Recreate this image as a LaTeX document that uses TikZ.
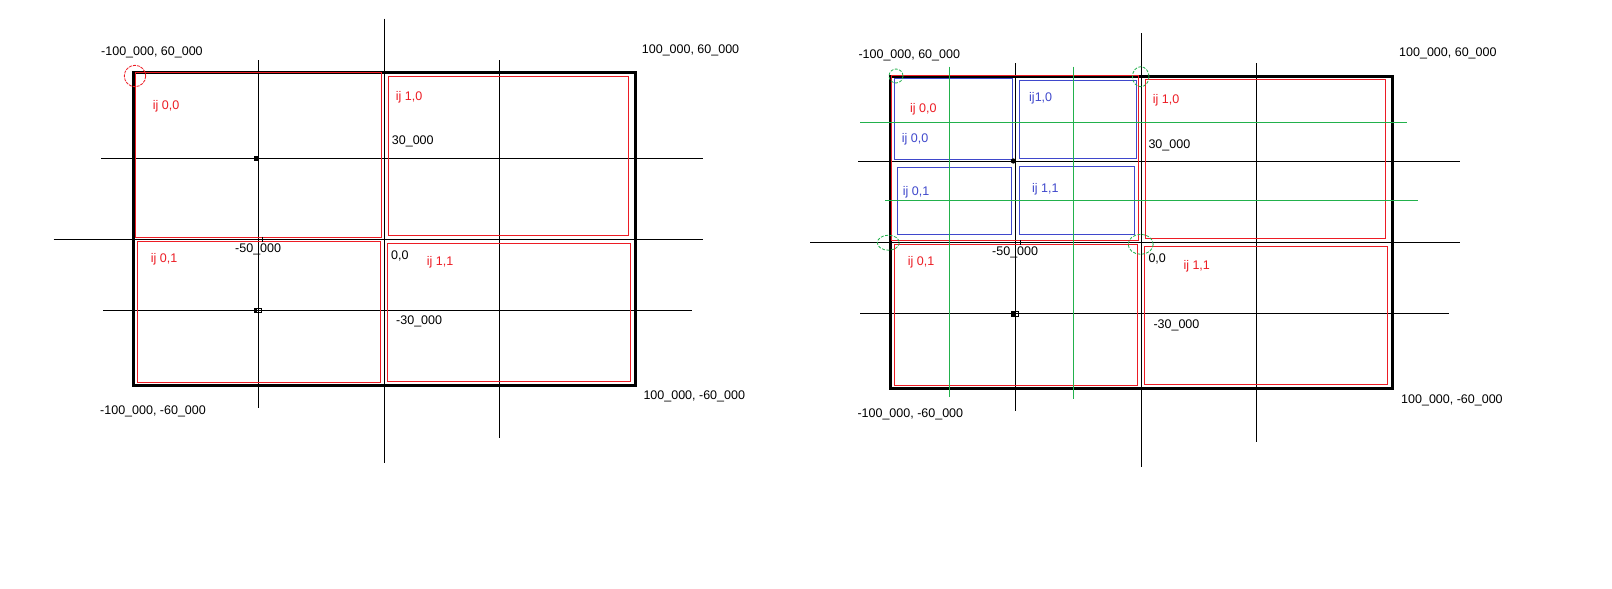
\documentclass[tikz,border=0pt]{standalone}
\usepackage{fontspec}
\setmainfont{Liberation Sans}
\definecolor{pred}{RGB}{237,28,36}
\definecolor{pblue}{RGB}{63,72,204}
\definecolor{pgreen}{RGB}{34,177,76}
\begin{document}
\begin{tikzpicture}[x=1pt,y=-1pt,
  axis/.style={line width=1pt,black},
  frame/.style={line width=3pt,black},
  redbox/.style={line width=1pt,pred},
  bluebox/.style={line width=1pt,pblue},
  gline/.style={line width=1pt,pgreen},
  gcirc/.style={line width=0.8pt,pgreen,dash pattern=on 3pt off 1.5pt},
  rcirc/.style={line width=0.8pt,pred,dash pattern=on 3pt off 1pt},
  lbl/.style={anchor=west,inner sep=0pt,font=\fontsize{12.5}{14}\selectfont},
  rlbl/.style={lbl,text=pred},
  blbl/.style={lbl,text=pblue}]
\useasboundingbox[fill=white] (0,0) rectangle (1612,589);

% ================= LEFT DIAGRAM =================
\draw[axis] (53.5,239.3) -- (702.7,239.3);
\draw[axis] (101,158.3) -- (702.7,158.3);
\draw[axis] (103,310) -- (691.7,310);
\draw[axis] (384.3,18.5) -- (384.3,463);
\draw[axis] (258.7,60) -- (258.7,407.7);
\draw[axis] (499.3,60) -- (499.3,438.3);
\draw[frame] (133.3,72.7) rectangle (635.3,385);
\draw[redbox] (135,72.7) rectangle (381.7,237.3);
\draw[redbox] (388.3,76) rectangle (628.7,235.3);
\draw[redbox] (137.3,241.3) rectangle (380.7,382.3);
\draw[redbox] (387.3,243.3) rectangle (630.3,381.3);
\draw[rcirc] (135,76) circle (10.7);
\fill (253.5,155.5) rectangle (257.5,161);
\fill (254,308) rectangle (257,312.5);
\draw[line width=0.7pt] (256.5,308.5) rectangle (261,312.3);
\draw[line width=0.8pt] (262.3,236.7) -- (262.3,241.7);

\node[lbl] (l1) at (101,52.7) {-100\_000, 60\_000};
\node[lbl] (l2) at (641.7,50) {100\_000, 60\_000};
\node[lbl] (l3) at (100,411) {-100\_000, -60\_000};
\node[lbl] (l4) at (643.3,396.7) {100\_000, -60\_000};
\node[rlbl] (l5) at (152.7,106) {ij 0,0};
\node[rlbl] (l6) at (395.7,97.3) {ij 1,0};
\node[rlbl] (l7) at (150.7,259.3) {ij 0,1};
\node[rlbl] (l8) at (426.7,262.7) {ij 1,1};
\node[lbl] (l9) at (391.7,141.7) {30\_000};
\node[lbl] (l10) at (235,249) {-50\_000};
\node[lbl] (l11) at (391,255.7) {0,0};
\node[lbl] (l12) at (396,321.7) {-30\_000};

% ================= RIGHT DIAGRAM =================
\draw[axis] (810,242.3) -- (1460,242.3);
\draw[axis] (858.3,161) -- (1460,161);
\draw[axis] (860,313.3) -- (1449,313.3);
\draw[axis] (1141.3,33.3) -- (1141.3,466.7);
\draw[axis] (1015.3,63.3) -- (1015.3,410.7);
\draw[axis] (1256.3,63.3) -- (1256.3,441.7);
\draw[frame] (890.7,76.3) rectangle (1392.3,388.3);
\draw[redbox] (891.7,75.5) rectangle (1138.3,240.7);
\draw[redbox] (1145.3,79.3) rectangle (1385.7,238.3);
\draw[redbox] (894,244.3) rectangle (1137.7,385);
\draw[redbox] (1144.3,246.3) rectangle (1387.3,384.3);
\draw[bluebox] (894,78.3) rectangle (1012.3,159);
\draw[bluebox] (1019.3,80.3) rectangle (1136.7,158.3);
\draw[bluebox] (897.3,167) rectangle (1011.3,234);
\draw[bluebox] (1019.3,166.3) rectangle (1134.7,234);
\draw[gline] (949.3,66.7) -- (949.3,396.7);
\draw[gline] (1073.3,66.7) -- (1073.3,399.3);
\draw[gline] (860,122.3) -- (1406.7,122.3);
\draw[gline] (885,200.7) -- (1417.7,200.7);
\draw[gcirc] (896,76) circle (7);
\draw[gcirc] (1140.7,76.7) ellipse [x radius=8.3, y radius=10];
\draw[gcirc] (888.3,242.7) ellipse [x radius=11, y radius=7.5];
\draw[gcirc] (1140.7,244.3) ellipse [x radius=12.5, y radius=10];
\fill (1013.3,161) circle (2.6);
\fill (1011,311.3) rectangle (1014.5,316.5);
\draw[line width=0.7pt] (1014,311.8) rectangle (1018.5,316.3);
\draw[line width=0.8pt] (1020,240) -- (1020,245);

\node[lbl] (r1) at (858.3,55.7) {-100\_000, 60\_000};
\node[lbl] (r2) at (1399,53.3) {100\_000, 60\_000};
\node[lbl] (r3) at (857.3,414) {-100\_000, -60\_000};
\node[lbl] (r4) at (1401,400) {100\_000, -60\_000};
\node[rlbl] (r5) at (910,109.3) {ij 0,0};
\node[blbl] (r6) at (901.7,139.3) {ij 0,0};
\node[blbl] (r7) at (1029,98.3) {ij1,0};
\node[blbl] (r8) at (902.7,192.3) {ij 0,1};
\node[blbl] (r9) at (1032,189.3) {ij 1,1};
\node[rlbl] (r10) at (1152.7,100) {ij 1,0};
\node[lbl] (r11) at (1148.3,145) {30\_000};
\node[lbl] (r12) at (992,252.3) {-50\_000};
\node[rlbl] (r13) at (907.7,262.3) {ij 0,1};
\node[lbl] (r14) at (1148.3,259) {0,0};
\node[rlbl] (r15) at (1183.3,266) {ij 1,1};
\node[lbl] (r16) at (1153.3,325) {-30\_000};
\end{tikzpicture}
\end{document}
